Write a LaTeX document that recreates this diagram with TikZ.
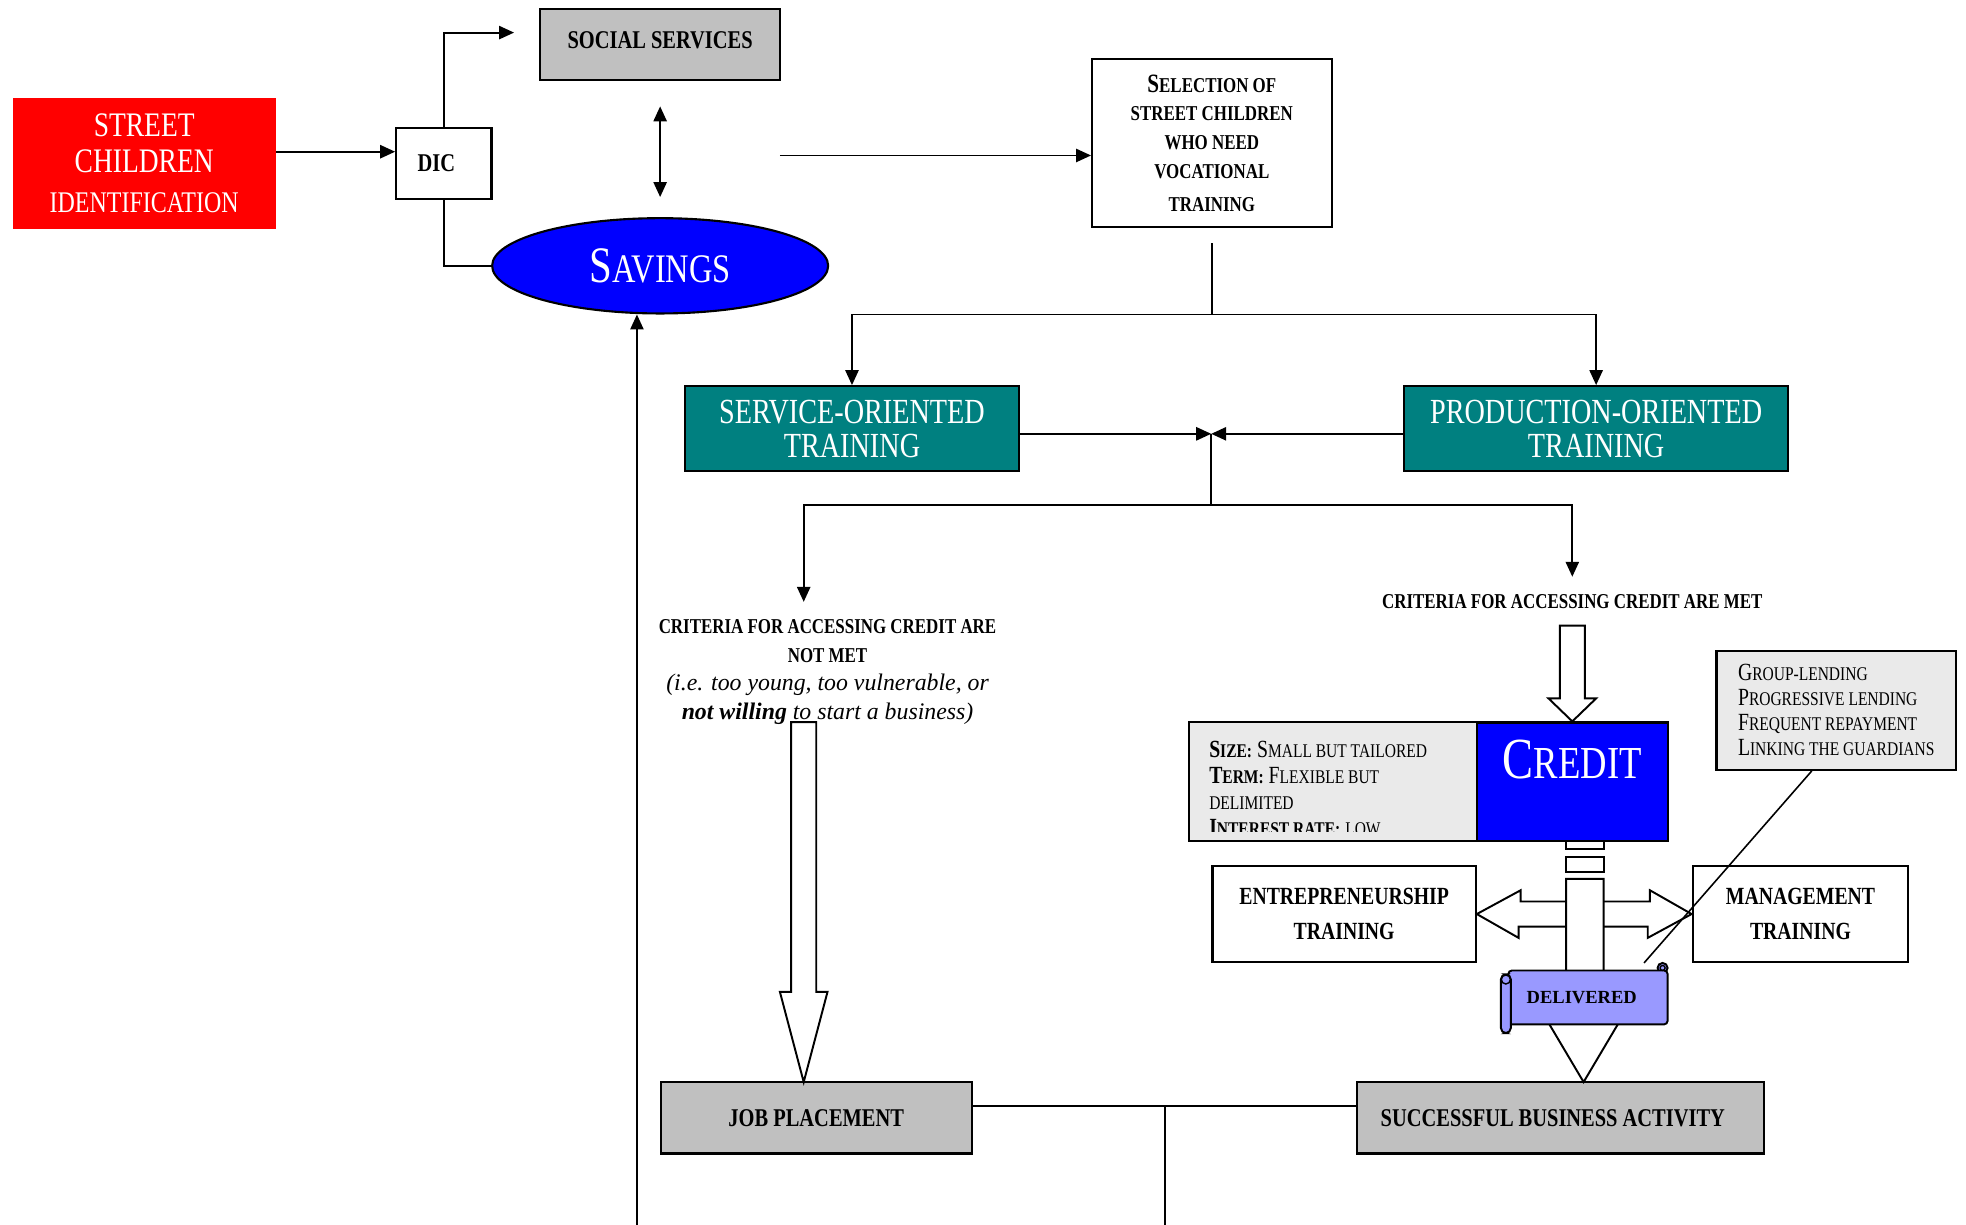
\documentclass[tikz,border=0pt]{standalone}
\usepackage{fontspec}
\setmainfont{Liberation Serif}[FakeStretch=0.8]
\newfontfamily\plainserif{Liberation Serif}
\usetikzlibrary{arrows.meta,shapes.geometric}

\definecolor{kidsRed}{RGB}{255,0,0}
\definecolor{savBlue}{RGB}{0,0,255}
\definecolor{boxGray}{RGB}{192,192,192}
\definecolor{boxTeal}{RGB}{0,128,128}
\definecolor{infoGray}{RGB}{234,234,234}
\definecolor{scrollBlue}{RGB}{153,153,255}

\newcommand{\capsc}[4]{{\fontsize{#1}{#1}\selectfont #3}{\fontsize{#2}{#2}\selectfont #4}}

\begin{document}
\begin{tikzpicture}
\tikzset{flow/.style={line width=1.1pt,black}}
\tikzset{flowArrow/.style={flow,-{Triangle[length=8.5pt,width=7.5pt]}}}
\tikzset{flowBoth/.style={flow,{Triangle[length=8.5pt,width=7.5pt]}-{Triangle[length=8.5pt,width=7.5pt]}}}

\tikzset{module/.style={
rectangle,draw,black,line width=1.2pt,
inner sep=0pt,
align=center,
font=\bfseries\fontsize{14.5}{18}\selectfont}}

\tikzset{moduleGray/.style={module,fill=boxGray}}
\tikzset{moduleWhite/.style={module,fill=white}}

\tikzset{moduleTeal/.style={
module,fill=boxTeal,text=white,
font=\fontsize{20}{19.5}\selectfont}}

\tikzset{infoBox/.style={
rectangle,draw,black,line width=1.2pt,
fill=infoGray,inner sep=0pt}}

\tikzset{blockArrow/.style={draw,black,line width=1.1pt,fill=white}}

\useasboundingbox (0,0) rectangle (39.2,-24.425);

\draw
(2.875,-3.2625)
node[rectangle,fill=kidsRed,text=white,
minimum width=5.25cm,minimum height=2.625cm,
align=center,font=\fontsize{19.5}{20}\selectfont,name=streetKids]
{STREET\\CHILDREN\\[3pt]{\fontsize{17}{17}\selectfont IDENTIFICATION}};

\draw
(8.85,-3.2625)
node[moduleWhite,minimum width=1.9cm,minimum height=1.425cm,name=dic] {DIC\hspace*{0.3cm}};

\draw
(13.1625,-0.8875)
node[moduleGray,minimum width=4.775cm,minimum height=1.425cm,
text height=22.5pt,text depth=18pt,name=socialServices]
{SOCIAL SERVICES};

\draw
(13.1625,-5.3)
node[ellipse,draw,black,line width=1.2pt,fill=savBlue,text=white,
minimum width=6.7cm,minimum height=1.9cm,inner sep=0pt,name=savings]
{\capsc{29}{23}{S}{AVINGS}};

\draw
(24.1625,-2.85)
node[moduleWhite,minimum width=4.775cm,minimum height=3.35cm,
font=\bfseries\fontsize{12}{16.4}\selectfont,name=selection]
{\capsc{15}{12}{S}{ELECTION OF}\\STREET CHILDREN\\WHO NEED\\VOCATIONAL\\[2pt]TRAINING};

\draw
(16.9875,-8.55)
node[moduleTeal,minimum width=6.675cm,minimum height=1.7cm,name=serviceTrain]
{SERVICE-ORIENTED\\TRAINING};

\draw
(31.825,-8.55)
node[moduleTeal,minimum width=7.65cm,minimum height=1.7cm,name=productionTrain]
{PRODUCTION-ORIENTED\\TRAINING};

\draw
(16.5,-13.4)
node[align=center,font=\bfseries\fontsize{12}{16.4}\selectfont,name=notMet]
{CRITERIA FOR ACCESSING CREDIT ARE\\NOT MET\\
{\plainserif\mdseries\itshape\fontsize{13.5}{13.5}\selectfont (i.e. too young, too vulnerable, or}\\
{\plainserif\itshape\fontsize{13.5}{13.5}\selectfont not willing {\mdseries to start a business)}}};

\draw
(31.35,-12.0)
node[font=\bfseries\fontsize{12}{14}\selectfont,name=met]
{CRITERIA FOR ACCESSING CREDIT ARE MET};

\draw
(26.575,-15.5875)
node[infoBox,minimum width=5.75cm,minimum height=2.375cm,name=creditInfo] {};

\begin{scope}
\clip (creditInfo.north west) rectangle ([yshift=0.225cm]creditInfo.south east);
\draw
(creditInfo.north west) ++(0.425,-0.4)
node[anchor=north west,align=left,inner sep=0pt,
font=\fontsize{14}{14.6}\selectfont,name=creditTerms]
{\textbf{\capsc{14}{11}{S}{IZE:}} \capsc{14}{11}{S}{MALL BUT TAILORED}\\
\textbf{\capsc{14}{11}{T}{ERM:}} \capsc{14}{11}{F}{LEXIBLE BUT}\\
{\fontsize{11}{11}\selectfont DELIMITED}\\
\textbf{\capsc{14}{11}{I}{NTEREST RATE:}} {\fontsize{11}{11}\selectfont LOW}};
\end{scope}

\draw
(31.35,-15.5875)
node[rectangle,draw,black,line width=1.2pt,fill=savBlue,text=white,
minimum width=3.8cm,inner sep=0pt,text height=32pt,text depth=35.3pt,name=credit]
{\capsc{33}{26}{C}{REDIT}};

\draw
(36.6125,-14.1625)
node[infoBox,minimum width=4.775cm,minimum height=2.375cm,
align=left,font=\fontsize{14}{14.2}\selectfont,name=groupInfo]
{\capsc{14}{11}{G}{ROUP-LENDING}\\
\capsc{14}{11}{P}{ROGRESSIVE LENDING}\\
\capsc{14}{11}{F}{REQUENT REPAYMENT}\\
\capsc{14}{11}{L}{INKING THE GUARDIANS}};

\draw
(26.8,-18.225)
node[moduleWhite,minimum width=5.25cm,minimum height=1.9cm,
font=\bfseries\fontsize{14}{20}\selectfont,name=entreTrain]
{ENTREPRENEURSHIP\\TRAINING};

\draw
(35.9,-18.225)
node[moduleWhite,minimum width=4.3cm,minimum height=1.9cm,
font=\bfseries\fontsize{14}{20}\selectfont,name=mgmtTrain]
{MANAGEMENT\\TRAINING};

\draw
(16.275,-22.2875)
node[moduleGray,minimum width=6.2cm,minimum height=1.425cm,name=jobPlace]
{JOB PLACEMENT};

\draw
(31.1125,-22.2875)
node[moduleGray,minimum width=8.125cm,minimum height=1.425cm,name=business]
{SUCCESSFUL BUSINESS ACTIVITY\hspace*{0.3cm}};

\draw[blockArrow]
(15.775,-14.4) -- (15.775,-19.775) -- (15.55,-19.775)
-- (16.025,-21.575)
-- (16.5,-19.775) -- (16.275,-19.775) -- (16.275,-14.4) -- cycle;

\draw[blockArrow]
(31.1,-12.475) -- (31.1,-13.925) -- (30.875,-13.925)
-- (credit.north) -- (31.825,-13.925) -- (31.6,-13.925)
-- (31.6,-12.475) -- cycle;

\draw[blockArrow]
(entreTrain.east) -- ++(0.875,0.475) -- ++(0,-0.225) -- ++(2.575,0)
-- ++(0,0.225) -- (mgmtTrain.west) -- ++(-0.875,-0.475) -- ++(0,0.225)
-- ++(-2.575,0) -- ++(0,-0.225) -- cycle;

\draw[blockArrow] (31.225,-16.775) rectangle (31.975,-16.925);
\draw[blockArrow] (31.225,-17.0875) rectangle (31.975,-17.3875);
\draw[blockArrow]
(31.225,-17.525) -- (31.225,-20.2) -- (30.76,-20.2)
-- (31.575,-21.575) -- (32.39,-20.2) -- (31.975,-20.2)
-- (31.975,-17.525) -- cycle;

\draw[line width=1.1pt,fill=scrollBlue] (33.15,-19.3) circle (0.1);
\draw
(31.6625,-19.8875)
node[rectangle,draw,black,line width=1.1pt,fill=scrollBlue,rounded corners=2pt,
minimum width=3.175cm,minimum height=1.075cm,inner sep=0pt,
font=\plainserif\bfseries\fontsize{10.5}{10.5}\selectfont,name=delivered]
{\hspace*{-0.25cm}DELIVERED};
\draw[line width=1.1pt,fill=scrollBlue,rounded corners=3pt]
(29.925,-19.425) rectangle (30.125,-20.6);
\draw[line width=0.8pt,fill=scrollBlue] (30.025,-19.53) circle (0.09);
\draw[line width=0.8pt] (33.15,-19.3) circle (0.05);

\draw[flowArrow] ([yshift=0.2375cm]streetKids.east) -- ([yshift=0.2375cm]dic.west);

\coordinate (ssIn) at (10.25,-0.65);
\draw[flowArrow] (dic.north) |- (ssIn);
\draw[flow] (dic.south) |- (savings.west);

\draw[flowBoth] ([yshift=-0.5cm]socialServices.south) -- ([yshift=0.4cm]savings.north);

\coordinate (selIn) at (15.55,-3.1);
\draw[flowArrow] (selIn) -- (selIn -| selection.west);

\draw[flow] ([yshift=-0.3cm]selection.south) -- ++(0,-1.425) coordinate (trainSplit);
\draw[flowArrow] (trainSplit) -| (serviceTrain.north);
\draw[flowArrow] (trainSplit) -| (productionTrain.north);

\coordinate (trainMerge) at (24.15,-8.65);
\draw[flowArrow] (serviceTrain.east |- trainMerge) -- (trainMerge);
\draw[flowArrow] (productionTrain.west |- trainMerge) -- (trainMerge);
\draw[flow] (trainMerge) -- ++(0,-1.425) coordinate (criteriaSplit);

\coordinate (notMetIn) at (16.025,-12.0);
\coordinate (metIn) at (31.35,-11.5);
\draw[flowArrow] (criteriaSplit) -| (notMetIn);
\draw[flowArrow] (criteriaSplit) -| (metIn);

\coordinate (savingsFeed) at (12.7,-24.425);
\draw[flowArrow] (savingsFeed) -- (savingsFeed |- savings.south);

\path ([yshift=0.2375cm]jobPlace.east) coordinate (outcomeLine);
\draw[flow] (outcomeLine) -- (outcomeLine -| business.west);
\coordinate (outcomeFeed) at (23.225,-24.425);
\draw[flow] (outcomeLine -| outcomeFeed) -- (outcomeFeed);

\coordinate (calloutEnd) at (32.78,-19.2);
\draw[line width=0.9pt] ([xshift=-0.4875cm]groupInfo.south) -- (calloutEnd);

\end{tikzpicture}
\end{document}
